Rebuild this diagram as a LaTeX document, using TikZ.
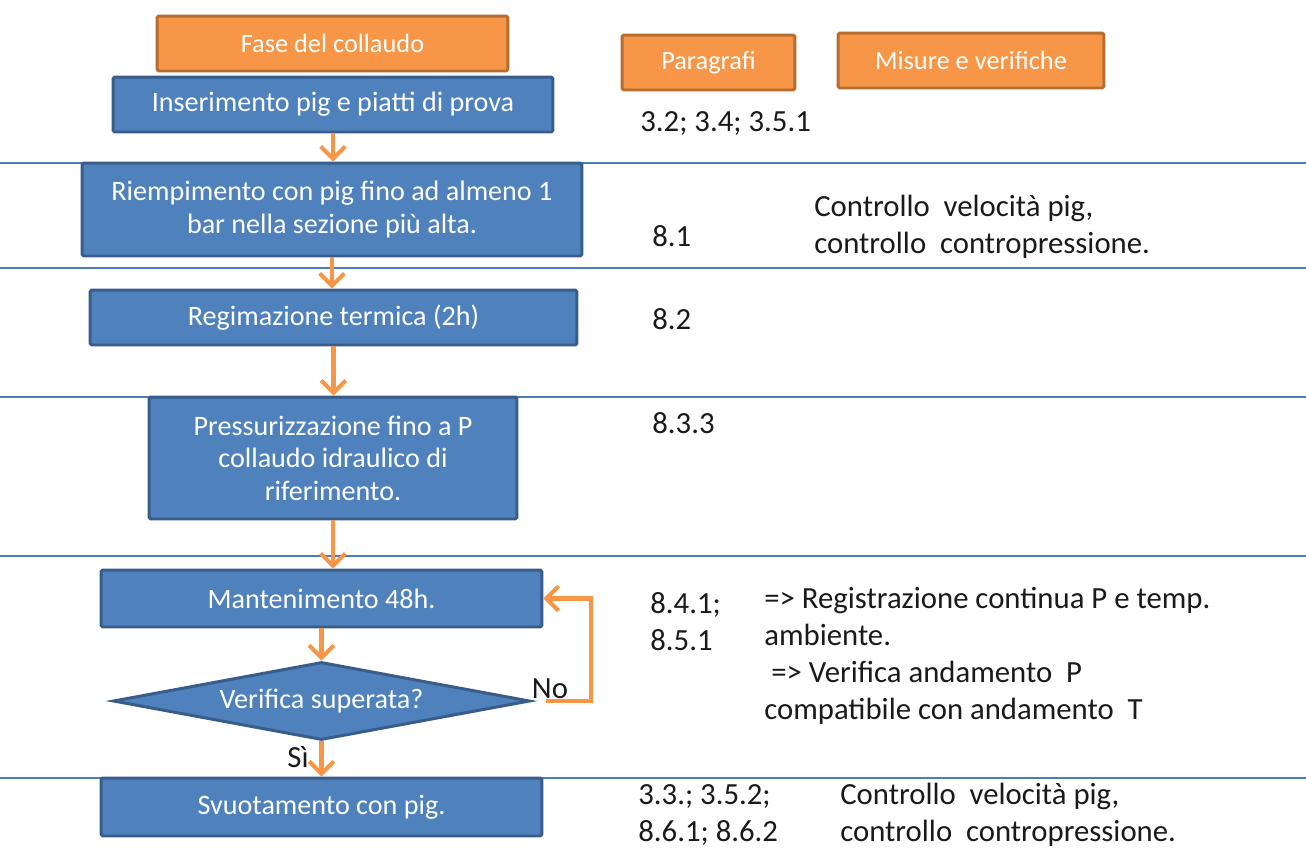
\documentclass[tikz,border=0pt]{standalone}
\usepackage{fontspec}
\setmainfont{Carlito}
\usetikzlibrary{shapes.geometric,arrows.meta,positioning,calc}
\definecolor{bluefill}{HTML}{4F81BD}
\definecolor{blueborder}{HTML}{385D8A}
\definecolor{orangefill}{HTML}{F79646}
\definecolor{orangeborder}{HTML}{B66D31}
\definecolor{rowline}{HTML}{4A7EBB}
\definecolor{textcol}{HTML}{1A1A1A}

\begin{document}
\begin{tikzpicture}[x=0.02cm,y=-0.02cm,
    fase/.style={draw=blueborder, fill=bluefill, line width=1.7pt, rounded corners=1pt,
        text=white, align=center, inner sep=0pt, font=\fontsize{16}{18.5}\selectfont},
    titolo/.style={draw=orangeborder, fill=orangefill, line width=1.7pt, rounded corners=1pt,
        text=white, align=center, inner sep=0pt, minimum height=1.1cm, font=\fontsize{15}{18}\selectfont},
    freccia/.style={draw=orangefill, line width=2.3pt, -{Straight Barb[length=7pt,width=14pt]}},
    testo/.style={text=textcol, align=left, inner sep=0pt, anchor=west, font=\fontsize{17.5}{21}\selectfont}]
                        \useasboundingbox (0,0) rectangle (1306,849);
                        \foreach \y in {163,268,397,556,778}
                        {
                            \draw [rowline, line width=1pt] (0,\y) -- (1306,\y);
                        }
                        \node [titolo, minimum width=7.02cm] (fase) at (332.5,43.5) {Fase del collaudo};
                        \node [titolo, minimum width=3.46cm] (paragrafi) at (708.5,62.5) {Paragrafi};
                        \node [titolo, minimum width=5.32cm] (misure) at (971,60.5) {Misure e verifiche};
                        \node [fase, minimum width=8.8cm, minimum height=1.1cm] (inserimento) at (333,104.5) {Inserimento pig e piatti di prova};
                        \node [fase, minimum width=10cm, minimum height=1.86cm] (riempimento) at (332,209.5) {Riempimento con pig fino ad almeno 1\\bar nella sezione più alta.};
                        \node [fase, minimum width=9.74cm, minimum height=1.1cm] (regimazione) at (333.5,317.5) {Regimazione termica (2h)};
                        \node [fase, minimum width=7.36cm, minimum height=2.44cm] (pressurizzazione) at (333,458) {Pressurizzazione fino a P\\collaudo idraulico di\\riferimento.};
                        \node [fase, minimum width=8.82cm, minimum height=1.14cm] (mantenimento) at (321.5,598.5) {Mantenimento 48h.};
                        \node [fase, diamond, aspect=5.35, rounded corners=0pt, minimum width=8.34cm, minimum height=1.56cm] (verifica) at (321.5,701) {Verifica superata?};
                        \node [fase, minimum width=8.82cm, minimum height=1.16cm] (svuotamento) at (321.5,807) {Svuotamento con pig.};
                        \draw [freccia] (inserimento.south) -- (inserimento.south |- riempimento.north);
                        \draw [freccia] (riempimento.south) -- (riempimento.south |- regimazione.north);
                        \draw [freccia] (regimazione.south) -- (regimazione.south |- pressurizzazione.north);
                        \draw [freccia] (pressurizzazione.south) -- (pressurizzazione.south |- mantenimento.north);
                        \draw [freccia] (mantenimento.south) -- (verifica.north);
                        \draw [freccia] (verifica.south) -- (svuotamento.north);
                        \draw [freccia] ($(verifica.east)+(15,0)$) -- ++(45,0) |- (mantenimento.east);
                        \node [testo, anchor=center] (no) at (550,689) {No};
                        \node [testo, anchor=center] (si) at (298,757) {Sì};
                        \node [testo] (par1) at (640,123) {3.2; 3.4; 3.5.1};
                        \node [testo] (par2) at (652,236) {8.1};
                        \node [testo] (mis2) at (814,226.5) {Controllo\ \ velocità pig,\\controllo\ \ contropressione.};
                        \node [testo] (par3) at (652,319) {8.2};
                        \node [testo] (par4) at (652,423) {8.3.3};
                        \node [testo] (par5) at (650,622) {8.4.1;\\8.5.1};
                        \node [testo] (mis5) at (764,656) {=> Registrazione continua P e temp.\\ambiente.\\\ => Verifica andamento\ \ P\\compatibile con andamento\ \ T};
                        \node [testo] (par6) at (638,815) {3.3.; 3.5.2;\\8.6.1; 8.6.2};
                        \node [testo] (mis6) at (840,815) {Controllo\ \ velocità pig,\\controllo\ \ contropressione.};
                    \end{tikzpicture}
\end{document}
